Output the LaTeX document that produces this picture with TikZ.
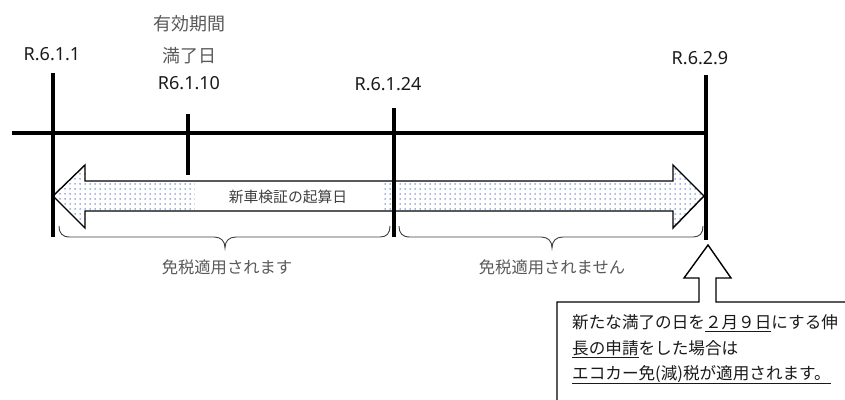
\documentclass[tikz,border=0pt]{standalone}
\usepackage{fontspec}
\setmainfont{Noto Sans}
\newfontfamily\jp{Noto Sans CJK JP}
\usetikzlibrary{patterns.meta}
\definecolor{dotblue}{HTML}{3F6CC0}
\definecolor{txtgray}{HTML}{595959}
\definecolor{txtdark}{HTML}{1A1A1A}
\definecolor{bracegray}{HTML}{404040}
\begin{document}
\begin{tikzpicture}[x=1pt,y=-1pt,
  datelbl/.style={inner sep=0pt, text=txtdark, font=\fontsize{18}{20}\selectfont},
  jplbl/.style={inner sep=0pt, text=txtgray, font=\jp\fontsize{18}{20}\selectfont},
  bracelbl/.style={inner sep=0pt, text=txtgray, font=\jp\fontsize{16.3}{18}\selectfont},
  arrowlbl/.style={inner sep=0pt, text=bracegray, font=\jp\fontsize{14.8}{16}\selectfont},
  notelbl/.style={inner sep=0pt, anchor=base west, text=txtdark, font=\jp\fontsize{16.6}{18}\selectfont},
  timeline/.style={line width=4.5pt, black},
  bracestyle/.style={line width=0.9pt, bracegray},
  bigarrow/.style={line width=1.4pt, black, pattern={Dots[distance=5pt, radius=0.75pt]}, pattern color=dotblue},
  callout/.style={line width=1.4pt, black, fill=white}
]
\useasboundingbox (0,0) rectangle (845,399);
\clip (0,0) rectangle (845,399);

% double arrow
\draw[bigarrow] (53,196) -- (85,165) -- (85,181) -- (673,181) -- (673,165) -- (704,196)
  -- (673,228) -- (673,211) -- (85,211) -- (85,228) -- cycle;
\fill[white] (195,182.5) rectangle (384,209.5);
\node[arrowlbl] (start) at (288,197) {新車検証の起算日};

% timeline
\coordinate (hl) at (12,133);
\coordinate (hr) at (708,133);
\draw[timeline] (hl) -- (hr);
\coordinate (v1t) at (53,73);  \coordinate (v1b) at (53,237);
\coordinate (v2t) at (188,114); \coordinate (v2b) at (188,175);
\coordinate (v3t) at (394,108); \coordinate (v3b) at (394,237);
\coordinate (v4t) at (706,75);  \coordinate (v4b) at (706,240);
\draw[timeline] (v1t) -- (v1b);
\draw[timeline] (v2t) -- (v2b);
\draw[timeline] (v3t) -- (v3b);
\draw[timeline] (v4t) -- (v4b);

% labels
\node[datelbl] (d1) at (52,54) {R.6.1.1};
\node[jplbl] (m1) at (189,24) {有効期間};
\node[jplbl] (m2) at (189,56) {満了日};
\node[datelbl] (d2) at (189,83) {R6.1.10};
\node[datelbl] (d3) at (388,84) {R.6.1.24};
\node[datelbl] (d4) at (700,58) {R.6.2.9};

% braces
\draw[bracestyle] (59,226) .. controls (59,233) and (62,237) .. (70,237) -- (214,237)
  .. controls (221,237) and (225,241) .. (225,248)
  .. controls (225,241) and (229,237) .. (236,237) -- (380,237)
  .. controls (387,237) and (390,233) .. (390,226);
\draw[bracestyle] (399,226) .. controls (399,233) and (402,237) .. (410,237) -- (541,237)
  .. controls (548,237) and (552,241) .. (552,248)
  .. controls (552,241) and (556,237) .. (563,237) -- (693,237)
  .. controls (700,237) and (703,233) .. (703,226);
\node[bracelbl] (b1) at (227,267) {免税適用されます};
\node[bracelbl] (b2) at (552,267) {免税適用されません};

% callout
\draw[callout] (557,410) -- (557,302) -- (699,302) -- (699,278) -- (684,278) -- (708,245)
  -- (731,278) -- (716,278) -- (716,302) -- (860,302) -- (860,410);
\node[notelbl] (n1) at (572,328) {新たな満了の日を\underline{２月９日}にする伸};
\node[notelbl] (n2) at (572,354) {\underline{長の申請}をした場合は};
\node[notelbl] (n3) at (572,379) {\underline{エコカー免(減)税が適用されます。}};
\end{tikzpicture}
\end{document}
